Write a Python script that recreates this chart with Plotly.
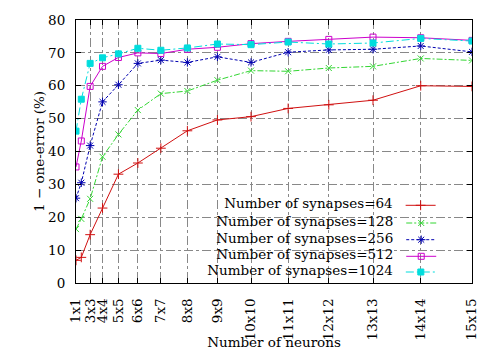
import plotly.graph_objects as go

# ---- data ----
side = list(range(1, 16))
neurons = [n * n for n in side]  # number of neurons (n x n map)
tick_vals = [1, 9, 16, 25, 36, 49, 64, 81, 100, 121, 144, 169, 196, 225]
tick_text = ["1x1", "3x3", "4x4", "5x5", "6x6", "7x7", "8x8", "9x9",
             "10x10", "11x11", "12x12", "13x13", "14x14", "15x15"]

syn64 = [6.9, 7.8, 14.7, 22.8, 33.1, 36.5, 41.0, 46.3, 49.6, 50.6, 53.1, 54.2, 55.6, 60.0, 59.8]
syn128 = [16.4, 19.5, 25.6, 38.4, 45.2, 52.6, 57.6, 58.4, 61.7, 64.6, 64.4, 65.4, 65.9, 68.3, 67.7]
syn256 = [25.8, 30.5, 41.8, 55.1, 60.3, 66.8, 67.8, 67.1, 68.8, 67.1, 70.2, 70.9, 71.1, 72.1, 70.3]
syn512 = [35.3, 43.2, 59.8, 65.9, 68.6, 70.0, 69.8, 71.1, 71.7, 72.8, 73.5, 74.1, 74.8, 74.6, 73.8]
syn1024 = [46.2, 55.9, 66.8, 68.5, 69.7, 71.4, 70.8, 71.5, 72.7, 72.5, 73.3, 72.7, 73.0, 74.4, 73.6]

names = ["Number of synapses=64", "Number of synapses=128", "Number of synapses=256",
         "Number of synapses=512", "Number of synapses=1024"]
values = [syn64, syn128, syn256, syn512, syn1024]

# ---- styles ----
colors = ["#d01010", "#33d633", "#0000b0", "#cc00cc", "#00dddd"]
dashes = ["solid", "6px,2px,2px,2px", "3px,2px", "solid", "8px,3px,2px,3px"]
symbols = ["cross-thin-open", "x-thin-open", "asterisk-open", "square-open", "square"]
sizes = [7, 6, 7, 6, 6]

FONT = "DejaVu Serif"
FS = 13.5

fig = go.Figure()
legend_rows_px = [205.3, 223.0, 239.7, 256.3, 272.0]
PLOT_TOP, PLOT_BOTTOM = 20, 283
layout_legends = {}
for i, (nm, vals) in enumerate(zip(names, values)):
    lgname = "legend" if i == 0 else f"legend{i+1}"
    fig.add_trace(go.Scatter(
        x=neurons, y=vals, mode="lines+markers", name="",
        legend=lgname,
        line=dict(color=colors[i], width=1, dash=dashes[i]),
        marker=dict(symbol=symbols[i], size=sizes[i], color=colors[i],
                    line=dict(color=colors[i], width=1)),
    ))
    ypaper = (PLOT_BOTTOM - legend_rows_px[i]) / (PLOT_BOTTOM - PLOT_TOP)
    layout_legends[lgname] = dict(
        x=0.935, xanchor="right", y=ypaper, yanchor="middle",
        bgcolor="rgba(0,0,0,0)", borderwidth=0,
        orientation="h", itemwidth=30,
        font=dict(family=FONT, size=8, color="black"),
        title=dict(text=nm, side="left",
                   font=dict(family=FONT, size=FS, color="black")),
    )

fig.update_layout(
    width=500, height=350,
    margin=dict(l=76, r=28, t=20, b=67, autoexpand=False),
    paper_bgcolor="white", plot_bgcolor="white",
    font=dict(family=FONT, size=FS, color="black"),
    showlegend=True,
    **layout_legends,
    shapes=[dict(type="rect", xref="paper", yref="paper",
                 x0=0.230, x1=1.0, y0=0.0, y1=0.327,
                 fillcolor="white", line=dict(width=0), layer="between")],
)

fig.update_xaxes(
    range=[1, 225], tickmode="array", tickvals=tick_vals, ticktext=tick_text,
    tickangle=-90, ticks="inside", ticklen=5, tickcolor="black",
    showline=True, linecolor="black", linewidth=1, mirror="ticks",
    showgrid=True, gridcolor="#888888", gridwidth=1, griddash="dashdot",
    zeroline=False, ticklabelstandoff=9,
    title=dict(text="Number of neurons", standoff=2, font=dict(family=FONT, size=FS)),
    tickfont=dict(family=FONT, size=FS),
)
fig.update_yaxes(
    range=[0, 80], tickmode="array", tickvals=list(range(0, 81, 10)),
    ticks="inside", ticklen=5, tickcolor="black",
    showline=True, linecolor="black", linewidth=1, mirror="ticks",
    showgrid=True, gridcolor="#888888", gridwidth=1, griddash="dashdot",
    zeroline=False, ticklabelstandoff=7,
    title=dict(text="1 − one-error (%)", standoff=0, font=dict(family=FONT, size=FS)),
    tickfont=dict(family=FONT, size=FS),
)

fig.write_html("out.html")
